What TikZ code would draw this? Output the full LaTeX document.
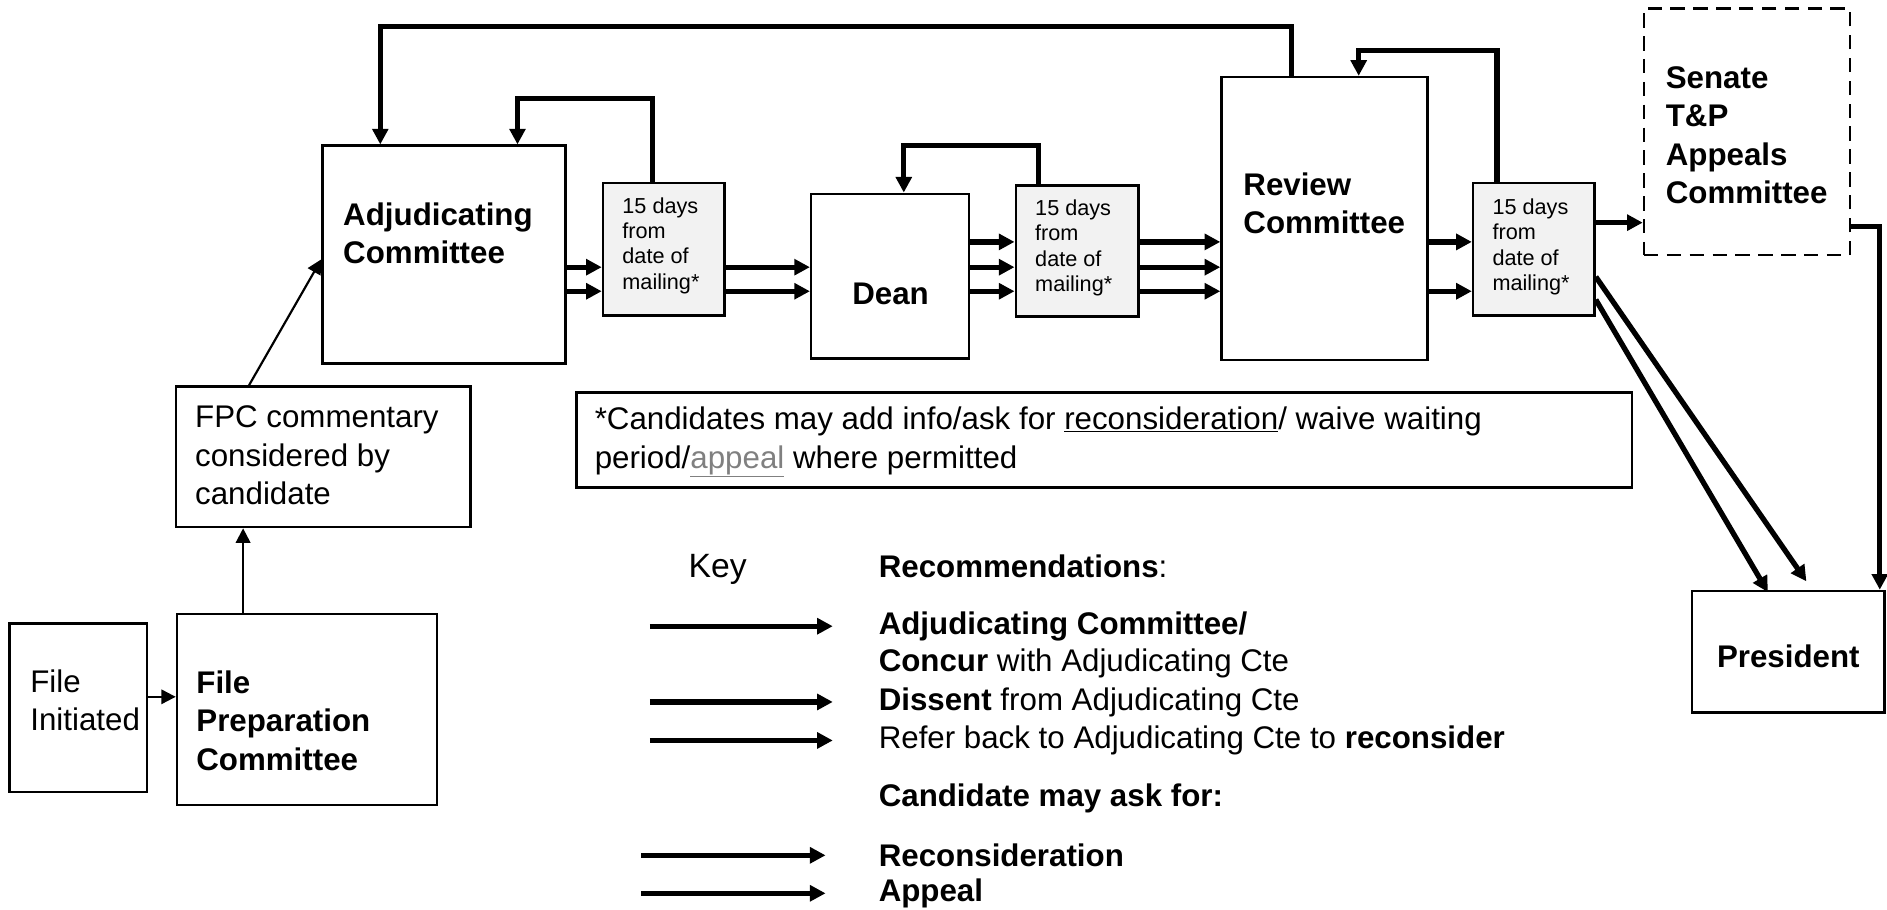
\documentclass[tikz,border=0pt]{standalone}
\usepackage{fontspec}
\setmainfont{Liberation Sans}
\usepackage{tikz}
\usetikzlibrary{arrows.meta}
\usetikzlibrary{calc}
\definecolor{waitfill}{HTML}{F2F2F2}
\definecolor{notegray}{HTML}{808080}

\begin{document}
\begin{tikzpicture}[x=1pt,y=-1pt,
  box/.style={draw,line width=2pt,inner sep=0pt},
  waitbox/.style={box,fill=waitfill},
  txt/.style={inner sep=0pt,align=left,font=\fontsize{26}{32}\selectfont},
  smalltxt/.style={inner sep=0pt,align=left,font=\fontsize{18}{21}\selectfont},
  flow/.style={line width=4.4pt,-{Triangle[length=13pt,width=13pt]}},
  thinflow/.style={line width=1.8pt,-{Triangle[length=12pt,width=12pt]}}]
\useasboundingbox (0,0) rectangle (1568,756);
%% boxes
\node[box,minimum width=202,minimum height=181] (adj) at (369,211.5) {};
\node[waitbox,minimum width=101,minimum height=110] (wait1) at (551.5,207) {};
\node[box,minimum width=131,minimum height=137] (dean) at (739.5,229.5) {};
\node[waitbox,minimum width=102,minimum height=109] (wait2) at (895,208.5) {};
\node[box,minimum width=171,minimum height=235] (review) at (1100.5,181.5) {};
\node[waitbox,minimum width=101,minimum height=110] (wait3) at (1274.5,207) {};
\node[box,dash pattern=on 12pt off 7pt,minimum width=171,minimum height=205] (senate) at (1451.5,109.5) {};
\node[box,minimum width=160,minimum height=101] (pres) at (1486,541.5) {};
\node[box,minimum width=245,minimum height=117] (fpc) at (268.5,379.5) {};
\node[box,minimum width=114,minimum height=140] (init) at (65,588) {};
\node[box,minimum width=216,minimum height=159] (prep) at (255,589.5) {};
\node[box,minimum width=877,minimum height=79] (note) at (917.5,365.5) {};
%% box texts
\node[txt,anchor=north west] (adjtext) at (285,168) {\bfseries Adjudicating\\\bfseries Committee};
\node[smalltxt,anchor=north west] (wait1text) at (517,164) {15 days\\from\\date of\\mailing*};
\node[txt,anchor=base west] (deantext) at (708,253) {\bfseries Dean};
\node[smalltxt,anchor=north west] (wait2text) at (860,166) {15 days\\from\\date of\\mailing*};
\node[txt,anchor=north west] (reviewtext) at (1033,143) {\bfseries Review\\\bfseries Committee};
\node[smalltxt,anchor=north west] (wait3text) at (1240,165) {15 days\\from\\date of\\mailing*};
\node[txt,anchor=north west] (senatetext) at (1384,55) {\bfseries Senate\\\bfseries T\&P\\\bfseries Appeals\\\bfseries Committee};
\node[txt,anchor=base] (prestext) at (1486,555) {\bfseries President};
\node[txt,anchor=north west] (fpctext) at (162,337) {FPC commentary\\considered by\\candidate};
\node[txt,anchor=north west] (inittext) at (25,556) {File\\Initiated};
\node[txt,anchor=north west] (preptext) at (163,557) {\bfseries File\\\bfseries Preparation\\\bfseries Committee};
\node[txt,anchor=north west] (notetext) at (494,338) {*Candidates may add info/ask for \underline{reconsideration}/ waive waiting\\period/\textcolor{notegray}{\underline{appeal}} where permitted};
%% rows of the flow arrows
\coordinate (rowA) at (0,201);
\coordinate (rowB) at (0,222);
\coordinate (rowC) at (0,242);
\coordinate (rowS) at (0,185);
\coordinate (rowI) at (0,579);
\foreach \r in {rowB,rowC}
  \draw[flow] (adj.east |- \r) -- (wait1.west |- \r);
\foreach \r in {rowB,rowC}
  \draw[flow] (wait1.east |- \r) -- (dean.west |- \r);
\foreach \r in {rowA,rowB,rowC} {
  \draw[flow] (dean.east |- \r) -- (wait2.west |- \r);
  \draw[flow] (wait2.east |- \r) -- (review.west |- \r);
}
\foreach \r in {rowA,rowC}
  \draw[flow] (review.east |- \r) -- (wait3.west |- \r);
\draw[flow] (wait3.east |- rowS) -- (senate.west |- rowS);
%% feedback loops
\coordinate (topL) at (316,22);
\coordinate (topR) at (1073,22);
\draw[flow] (review.north -| topR) -- (topR) -- (topL) -- (adj.north -| topL);
\coordinate (adjL) at (430,82);
\coordinate (adjR) at (542,82);
\draw[flow] (wait1.north -| adjR) -- (adjR) -- (adjL) -- (adj.north -| adjL);
\coordinate (deanL) at (751,121);
\coordinate (deanR) at (863,121);
\draw[flow] (wait2.north -| deanR) -- (deanR) -- (deanL) -- (dean.north -| deanL);
\coordinate (revL) at (1129,42);
\coordinate (revR) at (1244,42);
\draw[flow] (wait3.north -| revR) -- (revR) -- (revL) -- (review.north -| revL);
%% to the president
\coordinate (presR) at (1562,188);
\draw[flow] (senate.east |- presR) -| (pres.north -| presR);
\draw[flow] ([shift={(0,23)}]wait3.east) -- ([shift={(15,-7)}]pres.north);
\draw[flow] ([shift={(0,42)}]wait3.east) -- ([shift={(-17,2)}]pres.north);
%% file preparation
\coordinate (prepUp) at (202,0);
\coordinate (fpcUp) at (207,0);
\draw[thinflow] (init.east |- rowI) -- (prep.west |- rowI);
\draw[thinflow] (prep.north -| prepUp) -- (fpc.south -| prepUp);
\draw[thinflow] (fpc.north -| fpcUp) -- ([shift={(0,4)}]adj.west);
%% key
\node[txt,anchor=base west,font=\fontsize{28}{32}\selectfont] (key) at (572,480) {Key};
\node[txt,anchor=base west] (krecom) at (730,480) {\textbf{Recommendations}:};
\node[txt,anchor=base west] (kadj) at (730,527) {\bfseries Adjudicating Committee/};
\node[txt,anchor=base west] (kconc) at (730,558) {\textbf{Concur} with Adjudicating Cte};
\node[txt,anchor=base west] (kdis) at (730,590) {\textbf{Dissent} from Adjudicating Cte};
\node[txt,anchor=base west] (kref) at (730,622) {Refer back to Adjudicating Cte to \textbf{reconsider}};
\node[txt,anchor=base west] (kcand) at (730,670) {\bfseries Candidate may ask for:};
\node[txt,anchor=base west] (krec) at (730,720) {\bfseries Reconsideration};
\node[txt,anchor=base west] (kapp) at (730,749) {\bfseries Appeal};
\foreach \k in {kadj,kdis,kref}
  \draw[flow] ([xshift=-190pt]\k.west) -- ([xshift=-38pt]\k.west);
\foreach \k in {krec,kapp}
  \draw[flow] ([xshift=-197pt]\k.west) -- ([xshift=-44pt]\k.west);
\end{tikzpicture}
\end{document}
